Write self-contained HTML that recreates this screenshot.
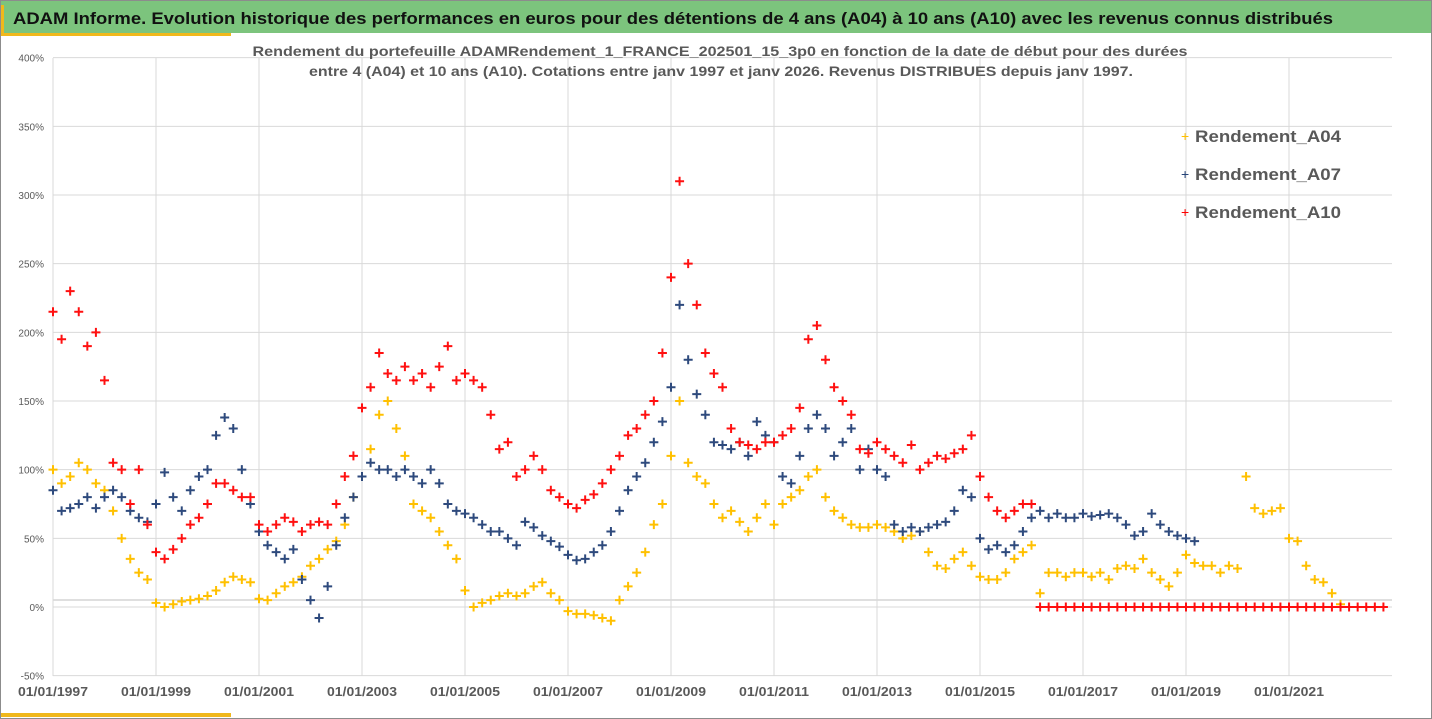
<!DOCTYPE html>
<html><head><meta charset="utf-8">
<style>
html,body{margin:0;padding:0;background:#fff;}
body{width:1432px;height:719px;position:relative;overflow:hidden;font-family:"Liberation Sans",sans-serif;}
#frame{position:absolute;left:0;top:0;width:1430px;height:717px;border:1px solid #8c8c8c;}
#header{position:absolute;left:1px;top:1px;width:1430px;height:32px;background:#7cc47d;}
</style></head>
<body>
<div id="frame"></div>
<div id="header"></div>
<svg id="chart" width="1432" height="719" style="position:absolute;left:0;top:0">
<text x="13" y="24" font-size="17" font-weight="bold" fill="#111" textLength="1320" lengthAdjust="spacingAndGlyphs">ADAM Informe. Evolution historique des performances en euros pour des détentions de 4 ans (A04) à 10 ans (A10) avec les revenus connus distribués</text>
<rect x="1" y="33" width="230" height="3" fill="#f0b81c"/>
<rect x="1" y="5" width="3" height="31" fill="#f0b81c"/>
<rect x="1" y="713" width="230" height="4" fill="#f0b81c"/>
<g id="grid"></g>
<text x="720" y="56" text-anchor="middle" font-size="14" font-weight="bold" fill="#595959" textLength="935" lengthAdjust="spacingAndGlyphs">Rendement du portefeuille ADAMRendement_1_FRANCE_202501_15_3p0  en fonction de la date de début pour des durées</text>
<text x="721" y="76" text-anchor="middle" font-size="14" font-weight="bold" fill="#595959" textLength="824" lengthAdjust="spacingAndGlyphs">entre 4 (A04) et 10 ans (A10). Cotations entre janv 1997 et janv 2026. Revenus DISTRIBUES depuis janv 1997.</text>
<g id="marks"></g>
<g id="legend">
<text x="1181" y="141" font-size="14" fill="#ffc000">+</text>
<text x="1195" y="142" font-size="17" font-weight="bold" fill="#595959" textLength="146" lengthAdjust="spacingAndGlyphs">Rendement_A04</text>
<text x="1181" y="179" font-size="14" fill="#264478">+</text>
<text x="1195" y="180" font-size="17" font-weight="bold" fill="#595959" textLength="146" lengthAdjust="spacingAndGlyphs">Rendement_A07</text>
<text x="1181" y="217" font-size="14" fill="#ff0000">+</text>
<text x="1195" y="218" font-size="17" font-weight="bold" fill="#595959" textLength="146" lengthAdjust="spacingAndGlyphs">Rendement_A10</text>
</g>
</svg>
<script>
// Data: values (%) every 2 months starting at the given year
const yTicks = [400,350,300,250,200,150,100,50,0,-50];
const yTickLabels = ["400%","350%","300%","250%","200%","150%","100%","50%","0%","-50%"];
const xTicks = [1997,1999,2001,2003,2005,2007,2009,2011,2013,2015,2017,2019,2021];
const xTickLabels = ["01/01/1997","01/01/1999","01/01/2001","01/01/2003","01/01/2005","01/01/2007","01/01/2009","01/01/2011","01/01/2013","01/01/2015","01/01/2017","01/01/2019","01/01/2021"];
const a04Start = 1997;
const a04 = [
100,90,95,105,100,90,
85,70,50,35,25,20,
3,0,2,4,5,6,
8,12,18,22,20,18,
6,5,10,15,18,22,
30,35,42,48,60,80,
95,115,140,150,130,110,
75,70,65,55,45,35,
12,0,3,5,8,10,
8,10,15,18,10,5,
-3,-5,-5,-6,-8,-10,
5,15,25,40,60,75,
110,150,105,95,90,75,
65,70,62,55,65,75,
60,75,80,85,95,100,
80,70,65,60,58,58,
60,58,55,50,52,55,
40,30,28,35,40,30,
22,20,20,25,35,40,
45,10,25,25,22,25,
25,22,25,20,28,30,
28,35,25,20,15,25,
38,32,30,30,25,30,
28,95,72,68,70,72,
50,48,30,20,18,10,
2];
const a07Start = 1997;
const a07 = [
85,70,72,75,80,72,
80,85,80,70,65,62,
75,98,80,70,85,95,
100,125,138,130,100,75,
55,45,40,35,42,20,
5,-8,15,45,65,80,
95,105,100,100,95,100,
95,90,100,90,75,70,
68,65,60,55,55,50,
45,62,58,52,48,44,
38,34,35,40,45,55,
70,85,95,105,120,135,
160,220,180,155,140,120,
118,115,120,110,135,125,
120,95,90,110,130,140,
130,110,120,130,100,115,
100,95,60,55,58,55,
58,60,62,70,85,80,
50,42,45,40,45,55,
65,70,65,68,65,65,
68,66,67,68,65,60,
52,55,68,60,55,52,
50,48];
const a10Start = 1997;
const a10 = [
215,195,230,215,190,200,
165,105,100,75,100,60,
40,35,42,50,60,65,
75,90,90,85,80,80,
60,55,60,65,62,55,
60,62,60,75,95,110,
145,160,185,170,165,175,
165,170,160,175,190,165,
170,165,160,140,115,120,
95,100,110,100,85,80,
75,72,78,82,90,100,
110,125,130,140,150,185,
240,310,250,220,185,170,
160,130,120,118,115,120,
120,125,130,145,195,205,
180,160,150,140,115,112,
120,115,110,105,118,100,
105,110,108,112,115,125,
95,80,70,65,70,75,
75,0,0,0,0,0,
0,0,0,0,0,0,
0,0,0,0,0,0,
0,0,0,0,0,0,
0,0,0,0,0,0,
0,0,0,0,0,0,
0,0,0,0,0,0];
const stepYears = 1/6;

const X0 = 53, PXY = 51.5, Y0 = 607, PXV = 1.3733;
function xScale(yr){ return X0 + (yr - 1997) * PXY; }
function yScale(v){ return Y0 - v * PXV; }
const NS = "http://www.w3.org/2000/svg";
const grid = document.getElementById('grid');
const marks = document.getElementById('marks');
const L = 53, R = 1392, T = 58, B = 676;

yTicks.forEach((t,i)=>{
  const y = yScale(t);
  const ln = document.createElementNS(NS,'line');
  ln.setAttribute('x1',L); ln.setAttribute('x2',R); ln.setAttribute('y1',y); ln.setAttribute('y2',y);
  ln.setAttribute('stroke', '#d9d9d9'); ln.setAttribute('stroke-width','1');
  
  
  grid.appendChild(ln);
  const tx = document.createElementNS(NS,'text');
  tx.setAttribute('x', 44); tx.setAttribute('y', y + 4);
  tx.setAttribute('text-anchor','end'); tx.setAttribute('font-size','10'); tx.setAttribute('fill','#595959');
  tx.textContent = yTickLabels[i];
  
  
  grid.appendChild(tx);
});
const ax = document.createElementNS(NS,'line');
ax.setAttribute('x1',L); ax.setAttribute('x2',R); ax.setAttribute('y1',600); ax.setAttribute('y2',600);
ax.setAttribute('stroke','#bfbfbf'); ax.setAttribute('stroke-width','1');


grid.appendChild(ax);
xTicks.forEach((t,i)=>{
  const x = xScale(t);
  const ln = document.createElementNS(NS,'line');
  ln.setAttribute('x1',x); ln.setAttribute('x2',x); ln.setAttribute('y1',T); ln.setAttribute('y2',B);
  ln.setAttribute('stroke','#d9d9d9'); ln.setAttribute('stroke-width','1');
  
  
  grid.appendChild(ln);
  const tx = document.createElementNS(NS,'text');
  tx.setAttribute('x', x); tx.setAttribute('y', 696);
  tx.setAttribute('text-anchor','middle'); tx.setAttribute('font-size','13'); tx.setAttribute('font-weight','bold'); tx.setAttribute('fill','#595959');
  tx.setAttribute('textLength','70'); tx.setAttribute('lengthAdjust','spacingAndGlyphs');
  tx.textContent = xTickLabels[i];
  
  
  grid.appendChild(tx);
});

function drawSeries(vals, start, color, name){
  const g = document.createElementNS(NS,'g');
  
  
  vals.forEach((v,i)=>{
    const x = xScale(start + i*stepYears), y = yScale(v);
    const p = document.createElementNS(NS,'path');
    p.setAttribute('d', `M${x-4.5},${y}H${x+4.5}M${x},${y-4.5}V${y+4.5}`);
    p.setAttribute('stroke', color); p.setAttribute('stroke-width','2');
    
    
    g.appendChild(p);
  });
  marks.appendChild(g);
}
drawSeries(a04, a04Start, '#ffc000', 'series-a04');
drawSeries(a07, a07Start, '#2e4a7d', 'series-a07');
drawSeries(a10, a10Start, '#ff1010', 'series-a10');
</script>
</body></html>
